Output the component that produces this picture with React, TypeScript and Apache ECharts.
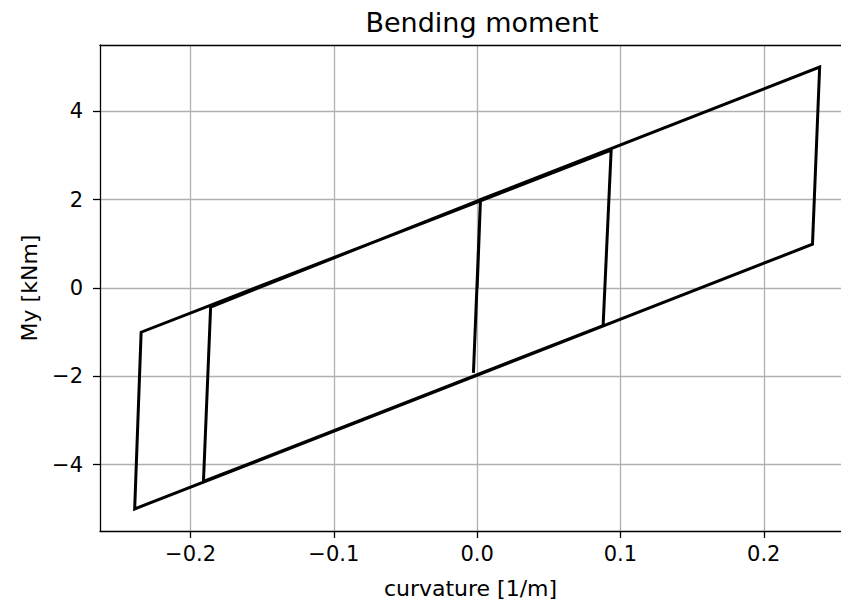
import React, { useEffect, useRef } from "react";
import * as echarts from "echarts";

const curvature = [0.0, 0.0023, 0.239, 0.234, -0.239, -0.2345, 0.0935, 0.0879, -0.191, -0.186, 0.0023, -0.0026];
const moment = [0.0, 2.0, 5.0, 0.99, -5.0, -1.0, 3.12, -0.85, -4.38, -0.43, 2.0, -1.92];
const xTicks = [-0.2, -0.1, 0.0, 0.1, 0.2];
const yTicks = [-4, -2, 0, 2, 4];

const FONT = "DejaVu Sans";
const fmtX = (v: number) => v.toFixed(1).replace("-", "\u2212");
const fmtY = (v: number) => String(v).replace("-", "\u2212");

export default function App() {
  const ref = useRef<HTMLDivElement>(null);
  useEffect(() => {
    if (!ref.current) return;
    const chart = echarts.init(ref.current, undefined, { renderer: "svg" });
    const data = curvature.map((c, i) => [c, moment[i]]);
    const spine = { color: "#000", width: 1.3 };
    chart.setOption({
      animation: false,
      backgroundColor: "#ffffff",
      title: {
        text: "Bending moment",
        left: 477,
        textAlign: "center",
        top: 4,
        textStyle: { fontFamily: FONT, fontSize: 27, fontWeight: "normal", color: "#000" },
      },
      grid: {
        left: 100,
        top: 45,
        right: 0,
        bottom: 69,
        show: false,
      },
      xAxis: [
        {
          type: "value",
          min: -0.2632,
          max: 0.2539,
          name: "curvature [1/m]",
          nameLocation: "middle",
          nameGap: 46,
          nameTextStyle: { fontFamily: FONT, fontSize: 22, color: "#000" },
          axisLine: { show: true, onZero: false, lineStyle: spine },
          axisTick: { show: true, inside: false, length: 7, customValues: xTicks, lineStyle: spine },
          axisLabel: { customValues: xTicks, formatter: fmtX, fontFamily: FONT, fontSize: 21, color: "#000", margin: 12 },
          splitLine: { show: true, lineStyle: { color: "#b0b0b0", width: 1.3 } },
        },
        {
          type: "value",
          position: "top",
          min: -0.2632,
          max: 0.2539,
          axisLine: { show: true, onZero: false, lineStyle: spine },
          axisTick: { show: false },
          axisLabel: { show: false },
          splitLine: { show: false },
        },
      ],
      yAxis: {
        type: "value",
        min: -5.5,
        max: 5.5,
        name: "My [kNm]",
        nameLocation: "middle",
        nameGap: 60,
        nameRotate: 90,
        nameTextStyle: { fontFamily: FONT, fontSize: 22, color: "#000" },
        axisLine: { show: true, onZero: false, lineStyle: spine },
        axisTick: { show: true, inside: false, length: 7, customValues: yTicks, lineStyle: spine },
        axisLabel: { customValues: yTicks, formatter: fmtY, fontFamily: FONT, fontSize: 21, color: "#000", margin: 17 },
        splitLine: { show: true, lineStyle: { color: "#b0b0b0", width: 1.3 } },
      },
      series: [
        {
          type: "line",
          xAxisIndex: 0,
          data,
          showSymbol: false,
          symbol: "none",
          lineStyle: { color: "#000", width: 3, join: "miter" },
          z: 5,
        },
      ],
    });
    return () => chart.dispose();
  }, []);
  return <div ref={ref} style={{ position: "absolute", left: 0, top: 0, width: 841, height: 604 }} />;
}
